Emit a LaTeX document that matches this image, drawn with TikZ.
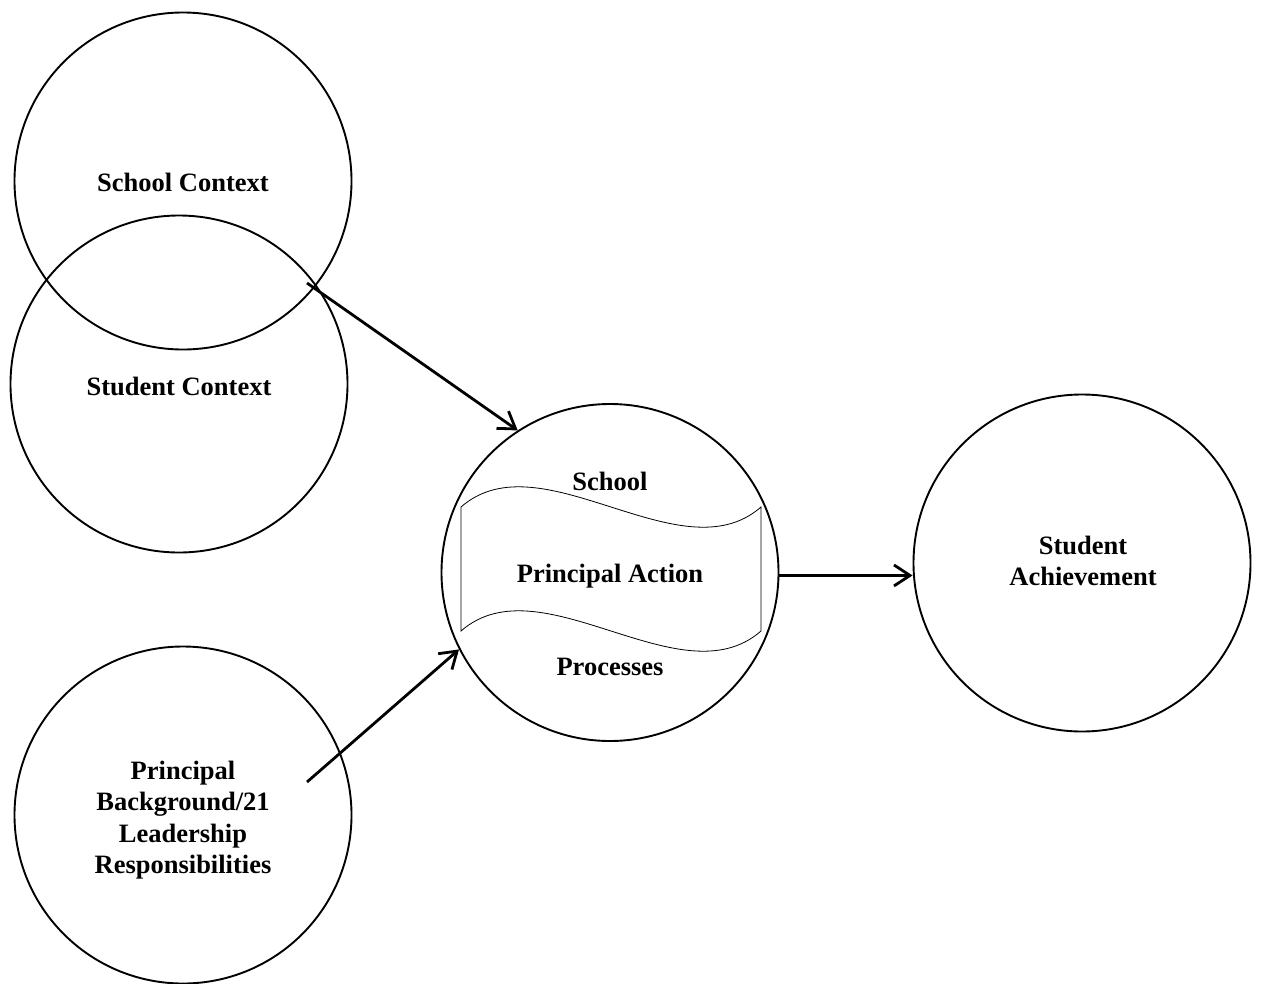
\documentclass[tikz,border=0pt]{standalone}
\usepackage{fontspec}
\setmainfont{Liberation Serif}
\usetikzlibrary{arrows.meta}
\begin{document}
\begin{tikzpicture}[x=1pt,y=-1pt,
  bub/.style={circle,draw,line width=1.9pt,minimum size=337pt,inner sep=0pt},
  lab/.style={font=\fontsize{26.5}{31.5}\selectfont\bfseries,align=center,inner sep=0pt},
  arr/.style={line width=2.8pt,-{Straight Barb[length=16pt,width=21pt]}}]
\useasboundingbox (0,0) rectangle (1261,983);
% circles
\node[bub] (school) at (183,181) {};
\node[bub] (student) at (179,384) {};
\node[bub] (princ) at (183,815) {};
\node[bub] (mid) at (610,572.5) {};
\node[bub] (ach) at (1082,563) {};
% labels
\node[lab,anchor=base] (tschool) at (183,191) {School Context};
\node[lab,anchor=base] (tstudent) at (179,395) {Student Context};
\node[lab,anchor=center] (tprinc) at (183,820) {Principal\\Background/21\\Leadership\\Responsibilities};
\node[lab,anchor=center] (tach) at (1083,561) {Student\\Achievement};
% banner
\draw[line width=0.8pt] (461,507) .. controls (541,437) and (681,577) .. (761,507)
  -- (761,631) .. controls (681,701) and (541,561) .. (461,631) -- cycle;
\node[lab,anchor=base] (tsch) at (610,490) {School};
\node[lab,anchor=base] (tpa) at (610,582) {Principal Action};
\node[lab,anchor=base] (tproc) at (610,675) {Processes};
% arrows
\coordinate (s1) at (307,283);
\coordinate (s2) at (307,782);
\coordinate (m3) at (mid.-1.9);
\draw[arr] (s1) -- (mid.123.7);
\draw[arr] (s2) -- (mid.207.3);
\draw[arr] (m3) -- (m3 -| ach.west);
\end{tikzpicture}
\end{document}
